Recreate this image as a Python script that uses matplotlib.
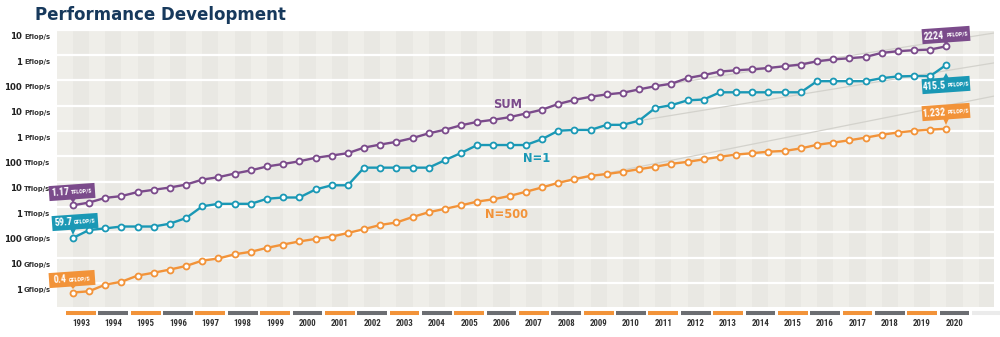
import numpy as np
import matplotlib
matplotlib.use("Agg")
import matplotlib.pyplot as plt
from matplotlib.transforms import blended_transform_factory, ScaledTranslation
from matplotlib.patches import Polygon

# ---------------- data (Gflop/s) ----------------
editions = [f"{y}-{m}" for y in range(1993, 2021) for m in ("06", "11")][:-1]

sum_gflops = [1170, 1500, 2300, 2700, 3900, 4800, 5900, 7700, 12100, 15100,
              21000, 28000, 40000, 50000, 64000, 88000, 108000, 134000, 222000, 293000,
              375000, 528000, 813000, 1127000, 1690000, 2300000, 2790000, 3540000, 4920000, 6970000,
              11700000, 16950000, 22600000, 27950000, 32400000, 44200000, 58900000, 74200000,
              123400000, 162000000, 223000000, 250000000, 274000000, 309000000, 363000000,
              420000000, 566700000, 672000000, 749000000, 845000000, 1220000000, 1417000000,
              1560000000, 1650000000, 2224000000]

n1_gflops = [59.7, 124, 143.4, 170, 170, 170, 220.4, 368.2, 1068, 1338,
             1338, 1338, 2121, 2379, 2379, 4938, 7226, 7226, 35860, 35860,
             35860, 35860, 35860, 70720, 136800, 280600, 280600, 280600, 280600, 478200,
             1026000, 1105000, 1105000, 1759000, 1759000, 2566000, 8162000, 10510000,
             16324000, 17590000, 33863000, 33863000, 33863000, 33863000, 33863000,
             33863000, 93015000, 93015000, 93015000, 93015000, 122300000, 143500000,
             148600000, 148600000, 415530000]

n500_gflops = [0.42, 0.472, 0.862, 1.12, 1.96, 2.55, 3.4, 4.71, 7.68, 9.29,
               13.61, 17.1, 24.4, 33.1, 43.8, 55.1, 67.8, 94.3, 134.3, 195.8,
               245.1, 403.4, 624, 851, 1166, 1646, 2026, 2737, 4005, 5929,
               9000, 12640, 17100, 20050, 24670, 31120, 39100, 50900,
               60800, 76500, 96600, 117800, 133700, 153400, 164000,
               206400, 286000, 349300, 432200, 548700, 715600, 874800,
               1022000, 1142000, 1232000]

# faint extrapolation lines: start (year, value) and value at right edge, Gflop/s
trend_start_year = [2011.25, 2010.75, 2008.25]
trend_start_val = [58.9e6, 2.566e6, 9.0e3]
trend_end_val = [10**9.87, 10**8.69, 10**7.38]

year_labels = [str(y) for y in range(1993, 2021)]
ytick_vals = [10.0**k for k in range(0, 11)]
ytick_nums = ["1", "10", "100"] * 3 + ["1", "10"]
ytick_units = ["Gflop/s"] * 3 + ["Tflop/s"] * 3 + ["Pflop/s"] * 3 + ["Eflop/s"] * 2

series_names = ["SUM", "N=1", "N=500"]
badge_first = [("1.17", "TFLOP/S"), ("59.7", "GFLOP/S"), ("0.4", "GFLOP/S")]
badge_last = [("2224", "PFLOP/S"), ("415.5", "PFLOP/S"), ("1.232", "PFLOP/S")]

# ---------------- style ----------------
PURPLE = "#7b4b8b"
TEAL = "#1a98b5"
ORANGE = "#f29339"
GRAY_BAR = "#6c6e72"
NAVY = "#17395c"
BG1 = "#efeee9"
BG2 = "#e9e8e3"
NARROW = ["Liberation Sans Narrow", "Roboto Condensed", "DejaVu Sans"]

W, H = 1000, 337
fig = plt.figure(figsize=(W / 100, H / 100), dpi=100)
fig.patch.set_facecolor("white")

def fx(px):
    return px / W

def fy(py):
    return 1 - py / H

ax = fig.add_axes([fx(57), fy(307), fx(994) - fx(57), fy(31) - fy(307)])
ax.set_yscale("log")
ax.set_xlim(1992.76, 2021.72)
ax.set_ylim(10 ** -0.947, 10 ** 9.95)
ax.set_facecolor(BG1)
for s in ax.spines.values():
    s.set_visible(False)
ax.set_xticks([])
ax.set_yticks([])
ax.minorticks_off()

def ed_to_x(e):
    y, m = e.split("-")
    return int(y) + (0.25 if m == "06" else 0.75)

x = np.array([ed_to_x(e) for e in editions])

# vertical stripes (half-year)
edges = np.arange(1993.25, 2022.0, 0.5)
for i in range(len(edges) - 1):
    if i % 2 == 0:
        ax.axvspan(edges[i], edges[i + 1], color=BG2, lw=0, zorder=0)

for v in ytick_vals:
    ax.axhline(v, color="white", lw=1.6, zorder=1)

# trend lines
for sy, sv, ev in zip(trend_start_year, trend_start_val, trend_end_val):
    ax.plot([sy, 2021.72], [sv, ev], color="#d3d2cc", lw=0.9, zorder=2)

# series
for vals, col in zip([sum_gflops, n1_gflops, n500_gflops], [PURPLE, TEAL, ORANGE]):
    ax.plot(x, vals, color=col, lw=1.7, marker="o", ms=4.3, mfc="white",
            mec=col, mew=1.3, zorder=4)

# y tick labels
ytr = blended_transform_factory(fig.transFigure, ax.transData) + \
    ScaledTranslation(0, -0.07, fig.dpi_scale_trans)
for v, n, u in zip(ytick_vals, ytick_nums, ytick_units):
    fig.text(fx(22), v, n, transform=ytr, ha="right", va="center",
             fontsize=6.2, fontweight="bold", color="#222222")
    fig.text(fx(24), v, u, transform=ytr, ha="left", va="center",
             fontsize=4.9, fontweight="bold", color="#333333")

# year bars and labels
btr = blended_transform_factory(ax.transData, fig.transFigure)
for i, yl in enumerate(year_labels):
    yr = int(yl)
    col = ORANGE if i % 2 == 0 else GRAY_BAR
    ax.plot([yr + 0.04, yr + 0.96], [fy(313), fy(313)], transform=btr, color=col,
            lw=2.9, solid_capstyle="butt", clip_on=False)
    ax.text(yr + 0.5, fy(323), yl, transform=btr, ha="center", va="center",
            fontsize=6.4, fontweight="bold", color="#333333", family=NARROW)
ax.plot([2021.04, 2021.96], [fy(313), fy(313)], transform=btr, color="#ebebeb",
        lw=2.9, solid_capstyle="butt", clip_on=False)

# title
fig.text(fx(35), fy(15), "Performance Development", fontsize=12, fontweight="bold",
         color=NAVY, ha="left", va="center")

# series labels
label_pos = [(508, 104), (537, 158), (507, 214)]
for name, (px, py), col in zip(series_names, label_pos, [PURPLE, TEAL, ORANGE]):
    fig.text(fx(px), fy(py), name, fontsize=8.3, fontweight="bold", color=col,
             ha="center", va="center")

renderer = fig.canvas.get_renderer()

def text_width(s, size):
    t = fig.text(0, 0, s, fontsize=size, fontweight="bold", family=NARROW)
    w = t.get_window_extent(renderer).width
    t.remove()
    return w

# badges
def badge(cx, cy, w, h, color, num, unit, tail_x, tail_tip):
    ang = np.deg2rad(4)
    c, s = np.cos(ang), np.sin(ang)
    corners = [(-w / 2, -h / 2), (w / 2, -h / 2), (w / 2, h / 2), (-w / 2, h / 2)]
    pts = []
    for dx, dy in corners:
        rx = dx * c - dy * s
        ry = dx * s + dy * c
        pts.append((fx(cx + rx), fy(cy - ry)))
    fig.patches.append(Polygon(pts, closed=True, transform=fig.transFigure,
                               facecolor=color, edgecolor="none", zorder=5))
    if tail_tip > cy:
        base_y = cy + h / 2 - (tail_x - cx) * np.tan(ang) - 1
    else:
        base_y = cy - h / 2 - (tail_x - cx) * np.tan(ang) + 1
    tri = [(fx(tail_x - 3), fy(base_y)), (fx(tail_x + 3), fy(base_y)),
           (fx(tail_x), fy(tail_tip))]
    fig.patches.append(Polygon(tri, closed=True, transform=fig.transFigure,
                               facecolor=color, edgecolor="none", zorder=5))
    ns, us = 7.2, 4.4
    wn = text_width(num, ns)
    wu = text_width(unit, us)
    gap = 1.8
    start = cx - (wn + gap + wu) / 2
    for txt, size, x0, dyb in [(num, ns, start, 0.0), (unit, us, start + wn + gap, -1.2)]:
        yoff = (x0 - cx) * np.tan(ang)
        fig.text(fx(x0), fy(cy + 3.0 - yoff + dyb), txt, fontsize=size,
                 fontweight="bold", color="white", ha="left", va="baseline",
                 rotation=4, rotation_mode="anchor", family=NARROW, zorder=6)

first_pos = [(72, 192, 73, 203), (75, 222, 73, 235), (72, 279, 73, 289)]
last_pos = [(946, 35, 946, 44), (946, 85, 946, 73), (946, 112, 946, 125)]
for (b, col, pos) in zip(badge_first, [PURPLE, TEAL, ORANGE], first_pos):
    cx, cy, tx, tt = pos
    badge(cx, cy, 46, 15, col, b[0], b[1], tx, tt)
for (b, col, pos) in zip(badge_last, [PURPLE, TEAL, ORANGE], last_pos):
    cx, cy, tx, tt = pos
    badge(cx, cy, 48, 15, col, b[0], b[1], tx, tt)

fig.savefig("out.png", dpi=100, facecolor="white")
